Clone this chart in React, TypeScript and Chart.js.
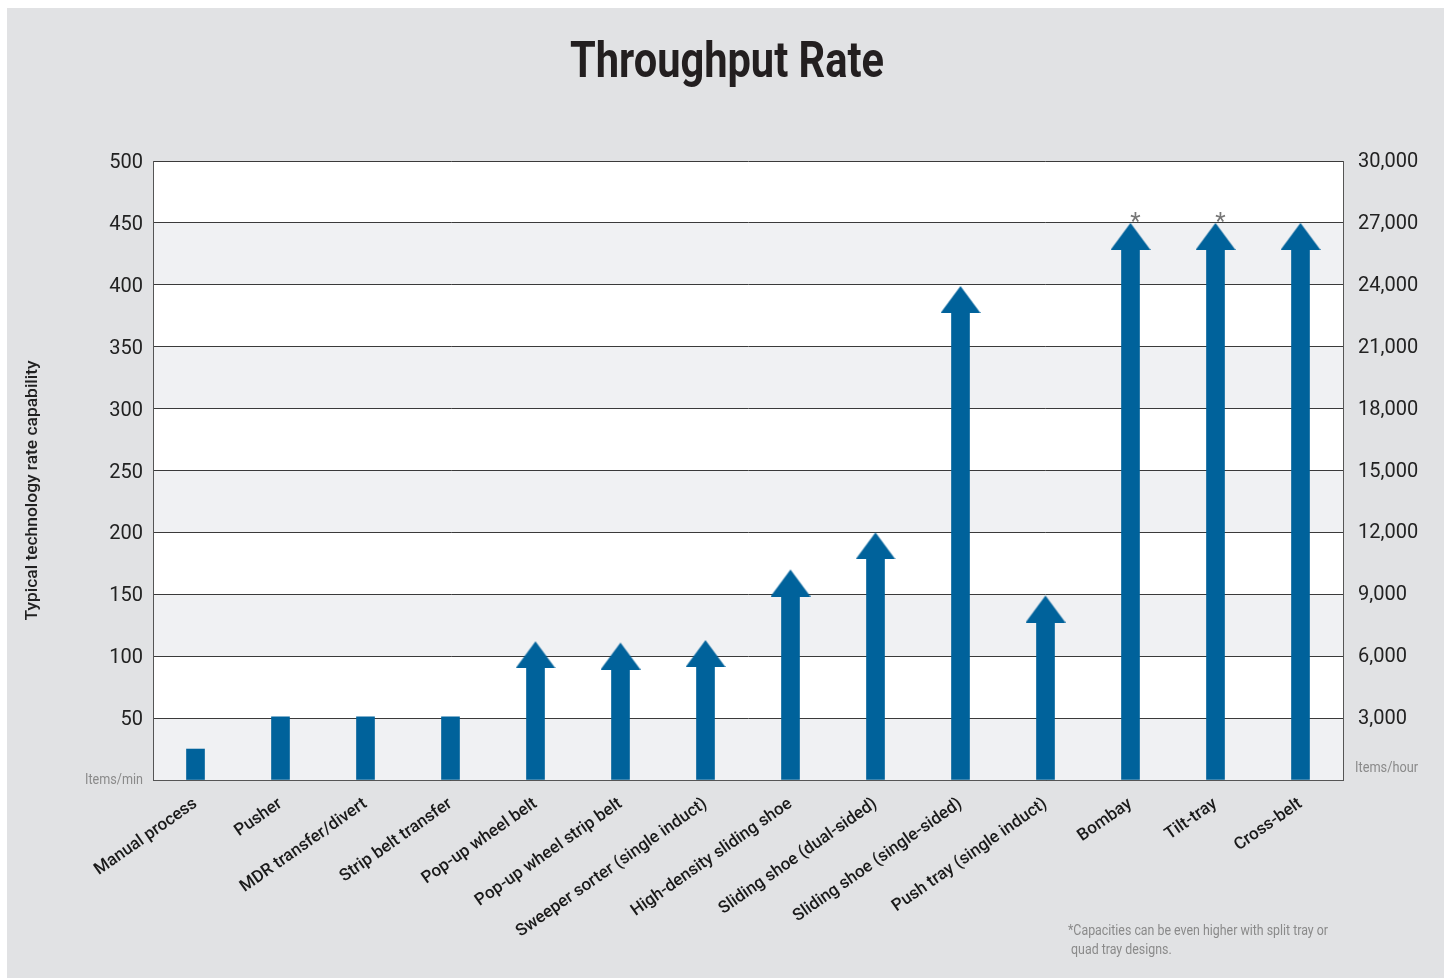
import React, { useEffect, useRef } from "react";
import { Chart, registerables } from "chart.js";

Chart.register(...registerables);

// ---- data ----
const CATEGORIES = [
  "Manual process",
  "Pusher",
  "MDR transfer/divert",
  "Strip belt transfer",
  "Pop-up wheel belt",
  "Pop-up wheel strip belt",
  "Sweeper sorter (single induct)",
  "High-density sliding shoe",
  "Sliding shoe (dual-sided)",
  "Sliding shoe (single-sided)",
  "Push tray (single induct)",
  "Bombay",
  "Tilt-tray",
  "Cross-belt",
];
// items per minute
const RATES = [25, 51, 51, 51, 112, 111, 113, 170, 200, 399, 149, 450, 450, 450];
// whether the rate is shown as "and above" (arrow)
const HAS_ARROW = [false, false, false, false, true, true, true, true, true, true, true, true, true, true];
// asterisk markers
const STARRED = [false, false, false, false, false, false, false, false, false, false, false, true, true, false];

const LEFT_MIN = 0;
const LEFT_MAX = 500;
const LEFT_STEP = 50;
const RIGHT_MIN = 0;
const RIGHT_MAX = 30000;
const RIGHT_STEP = 3000;

const TITLE = "Throughput Rate";
const Y_TITLE = "Typical technology rate capability";
const LEFT_UNIT = "Items/min";
const RIGHT_UNIT = "Items/hour";
const FOOTNOTE = ["*Capacities can be even higher with split tray or", " quad tray designs."];

const HEAD_UNITS = 20; // arrow-head depth in value units

const BLUE = "#00629B";
const BG = "#e1e2e4";
const BAND = "#f0f1f3";

function makeHead(): HTMLCanvasElement {
  const w = 40;
  const h = 54;
  const c = document.createElement("canvas");
  c.width = w;
  c.height = h;
  const g = c.getContext("2d")!;
  g.fillStyle = BLUE;
  g.beginPath();
  g.moveTo(w / 2, h / 2);
  g.lineTo(w, h);
  g.lineTo(0, h);
  g.closePath();
  g.fill();
  return c;
}

// draw condensed text by squeezing horizontally to a given width
function drawCondensed(
  ctx: CanvasRenderingContext2D,
  text: string,
  x: number,
  y: number,
  width: number,
  align: "left" | "right" | "center"
) {
  const w = ctx.measureText(text).width;
  const k = width / w;
  ctx.save();
  ctx.textAlign = "left";
  let x0 = x;
  if (align === "right") x0 = x - width;
  if (align === "center") x0 = x - width / 2;
  ctx.translate(x0, y);
  ctx.scale(k, 1);
  ctx.fillText(text, 0, 0);
  ctx.restore();
}

const decorPlugin = {
  id: "decor",
  beforeDraw(chart: any) {
    const { ctx, chartArea, scales } = chart;
    const { left, right, top, bottom } = chartArea;
    const y = scales.y;
    ctx.save();
    ctx.fillStyle = "#ffffff";
    ctx.fillRect(left, top, right - left, bottom - top);
    ctx.fillStyle = BAND;
    let i = 0;
    for (let v = LEFT_MIN; v < LEFT_MAX; v += LEFT_STEP, i++) {
      if (i % 2 === 0) {
        const y0 = y.getPixelForValue(v);
        const y1 = y.getPixelForValue(v + LEFT_STEP);
        ctx.fillRect(left, y1, right - left, y0 - y1);
      }
    }
    ctx.restore();
  },
  afterDraw(chart: any) {
    const { ctx, chartArea, scales } = chart;
    const { left, right, top, bottom } = chartArea;
    ctx.save();

    // title
    ctx.fillStyle = "#231f20";
    ctx.font = "bold 50px Roboto";
    ctx.textBaseline = "alphabetic";
    drawCondensed(ctx, TITLE, 720, 69, 314, "center");

    // y axis title
    ctx.save();
    ctx.translate(26, (top + bottom) / 2 + 20);
    ctx.rotate(-Math.PI / 2);
    ctx.fillStyle = "#222";
    ctx.font = "500 17px Roboto";
    ctx.textBaseline = "middle";
    drawCondensed(ctx, Y_TITLE, 0, 0, 260, "center");
    ctx.restore();

    // units
    ctx.fillStyle = "#8a8a8a";
    ctx.font = "15px Roboto";
    ctx.textBaseline = "middle";
    drawCondensed(ctx, LEFT_UNIT, left - 10, bottom, 58, "right");
    drawCondensed(ctx, RIGHT_UNIT, right + 12, bottom - 12, 63, "left");

    // asterisks
    ctx.fillStyle = "#777";
    ctx.font = "24px Roboto";
    ctx.textAlign = "center";
    ctx.textBaseline = "alphabetic";
    STARRED.forEach((s, i) => {
      if (!s) return;
      const x = scales.x.getPixelForValue(i) + 5;
      const yy = scales.y.getPixelForValue(RATES[i]);
      ctx.fillText("*", x, yy + 6);
    });

    // footnote
    ctx.fillStyle = "#8a8a8a";
    ctx.font = "14px Roboto";
    ctx.textBaseline = "middle";
    drawCondensed(ctx, FOOTNOTE[0], 1061, 923, 260, "left");
    const k = 260 / ctx.measureText(FOOTNOTE[0]).width;
    drawCondensed(ctx, FOOTNOTE[1], 1061, 942, ctx.measureText(FOOTNOTE[1]).width * k, "left");
    ctx.restore();
  },
};

export default function App() {
  const ref = useRef<HTMLCanvasElement | null>(null);

  useEffect(() => {
    if (!ref.current) return;
    Chart.defaults.font.family = "Roboto";
    const head = makeHead();
    const shafts = RATES.map((v, i) => (HAS_ARROW[i] ? v - HEAD_UNITS : v));
    const heads = RATES.map((v, i) => (HAS_ARROW[i] ? v : null));

    const chart = new Chart(ref.current, {
      type: "bar",
      data: {
        labels: CATEGORIES,
        datasets: [
          {
            type: "bar",
            data: shafts,
            backgroundColor: BLUE,
            barThickness: 18,
            yAxisID: "y",
            order: 2,
          } as any,
          {
            type: "line",
            data: heads,
            showLine: false,
            pointStyle: head,
            pointRadius: 20,
            pointHoverRadius: 20,
            yAxisID: "y",
            clip: false,
            order: 1,
          } as any,
        ],
      },
      options: {
        animation: false,
        responsive: true,
        maintainAspectRatio: false,
        layout: { padding: { top: 153, left: 0, right: 0, bottom: 0 } },
        plugins: {
          legend: { display: false },
          tooltip: { enabled: false },
          title: { display: false },
        },
        scales: {
          x: {
            type: "category",
            offset: true,
            grid: { display: false, drawTicks: false },
            border: { display: true, color: "#555", width: 1 },
            ticks: {
              autoSkip: false,
              minRotation: 35,
              maxRotation: 35,
              padding: 14,
              color: "#1a1a1a",
              font: { size: 17, weight: "500" },
            },
            afterFit(s: any) {
              s.height = 198;
            },
          },
          y: {
            position: "left",
            min: LEFT_MIN,
            max: LEFT_MAX,
            grid: { color: "#3a3a3a", lineWidth: 1, drawTicks: false },
            border: { display: true, color: "#555", width: 1 },
            ticks: {
              stepSize: LEFT_STEP,
              padding: 10,
              labelOffset: 2,
              color: "#222",
              font: { size: 20 },
              callback: (v: any) => (v === 0 ? "" : String(v)),
            },
            afterFit(s: any) {
              s.width = 146;
            },
          },
          y2: {
            position: "right",
            min: RIGHT_MIN,
            max: RIGHT_MAX,
            grid: { drawOnChartArea: false, drawTicks: false },
            border: { display: true, color: "#555", width: 1 },
            ticks: {
              stepSize: RIGHT_STEP,
              padding: 15,
              labelOffset: 1,
              color: "#222",
              font: { size: 20 },
              callback: (v: any) => (v === 0 ? "" : Number(v).toLocaleString("en-US")),
            },
            afterFit(s: any) {
              s.width = 101;
            },
          },
        },
      },
      plugins: [decorPlugin],
    });
    return () => chart.destroy();
  }, []);

  return (
    <div
      style={{
        position: "absolute",
        left: 7,
        top: 8,
        width: 1437,
        height: 970,
        background: BG,
      }}
    >
      <canvas ref={ref} />
    </div>
  );
}
